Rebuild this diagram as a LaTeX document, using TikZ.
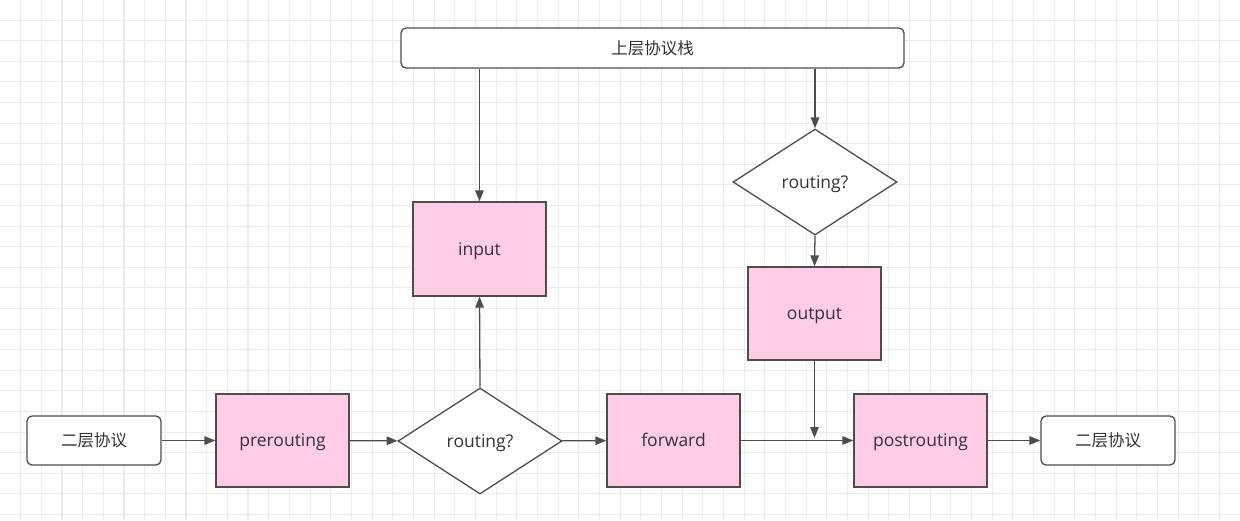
\documentclass[tikz,border=0pt]{standalone}
\usepackage{fontspec}
\setmainfont{Open Sans}
\newfontfamily\cjk{Noto Sans CJK SC}
\usetikzlibrary{shapes.geometric,arrows.meta}
\definecolor{pinkfill}{HTML}{FFCCE6}
\definecolor{strokec}{HTML}{4D4D4D}
\definecolor{textc}{HTML}{333333}
\definecolor{gridc}{HTML}{EBEBEB}
\tikzset{
  base/.style={draw=strokec, line width=1.3pt, text=textc, inner sep=0pt,
    text height=15pt, text depth=3pt, font=\fontsize{17.5}{20}\selectfont},
  pinkbox/.style={base, fill=pinkfill, minimum width=133pt, minimum height=93pt},
  roundbox/.style={base, fill=white, rounded corners=5pt, text height=14pt, text depth=2pt, font=\cjk\fontsize{16.5}{20}\selectfont},
  decision/.style={base, fill=white, diamond, shape aspect=1.55, minimum width=164pt, minimum height=106pt},
  arr/.style={draw=strokec, line width=1.3pt, -{Triangle[length=11pt,width=8.5pt]}},
  gridline/.style={draw=gridc, line width=1.1pt}
}
\begin{document}
\begin{tikzpicture}[x=1pt,y=-1pt]
\fill[white] (0,0) rectangle (1240,520);
\useasboundingbox (0,0) rectangle (1240,520);
\foreach \i in {1,...,60} {
  \draw[gridline] ({\i*20.67},0) -- ({\i*20.67},520);
}
\foreach \j in {1,...,25} {
  \draw[gridline] (0,{\j*20.6-0.5}) -- (1240,{\j*20.6-0.5});
}
\node[roundbox, minimum width=503pt, minimum height=40pt] (top) at (652.5,48) {上层协议栈};
\node[roundbox, minimum width=134pt, minimum height=49pt] (l2a) at (94,440.5) {二层协议};
\node[pinkbox] (pre) at (282.5,440.5) {prerouting};
\node[decision] (d1) at (480,441) {routing?};
\node[pinkbox, minimum height=94pt] (input) at (479.5,249) {input};
\node[pinkbox] (fwd) at (673.5,440.5) {forward};
\node[decision] (d2) at (815,182) {routing?};
\node[pinkbox] (out) at (814.5,313.5) {output};
\node[pinkbox] (post) at (920.5,440.5) {postrouting};
\node[roundbox, minimum width=134pt, minimum height=49pt] (l2b) at (1108,440.5) {二层协议};

\draw[arr] (l2a) -- (pre);
\draw[arr] (pre) -- (d1);
\draw[arr] (d1) -- (fwd);
\draw[arr] (d1.north) -- (input.south);
\draw[arr] (input.north |- top.south) -- (input.north);
\draw[arr] (d2.north |- top.south) -- (d2.north);
\draw[arr] (d2.south) -- (out.north);
\coordinate (m) at (out.south |- fwd.east);
\draw[arr, shorten >=2.5pt] (out.south) -- (m);
\draw[arr] (fwd) -- (post);
\draw[arr] (post) -- (l2b);
\end{tikzpicture}
\end{document}
